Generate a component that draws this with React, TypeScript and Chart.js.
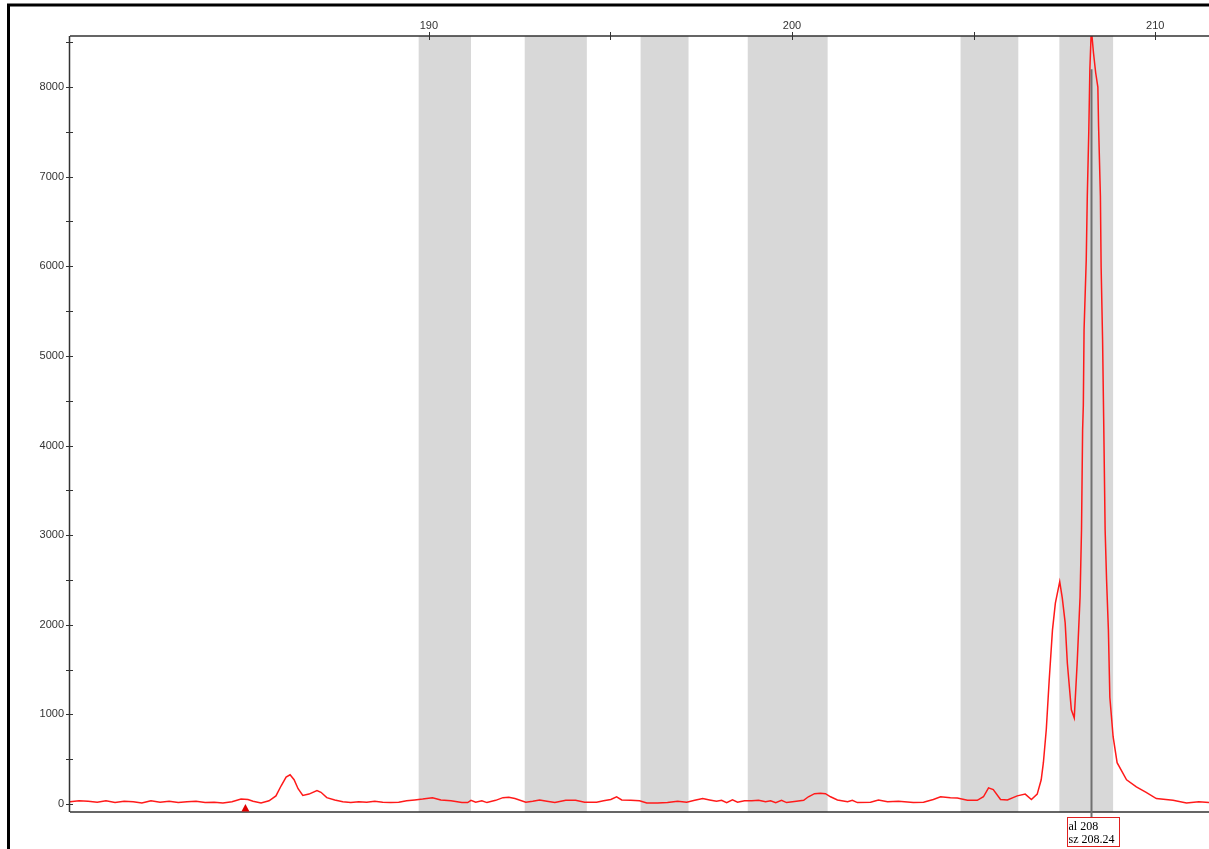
import React, { useEffect, useRef } from "react";
import { Chart, registerables } from "chart.js";

Chart.register(...registerables);

// Fragment size (bp) and signal (RFU)
const sizes = [
  180.12, 180.37, 180.62, 180.87, 181.11, 181.36, 181.61, 181.86, 182.10, 182.35,
  182.60, 182.85, 183.10, 183.34, 183.59, 183.84, 184.09, 184.33, 184.58, 184.83,
  185.02, 185.16, 185.38, 185.60, 185.79, 185.93, 186.07, 186.18, 186.29, 186.40,
  186.53, 186.70, 186.92, 187.03, 187.19, 187.41, 187.63, 187.85, 188.07, 188.29,
  188.51, 188.73, 188.95, 189.17, 189.39, 189.61, 189.83, 190.10, 190.33, 190.61,
  190.91, 191.07, 191.16, 191.29, 191.46, 191.60, 191.84, 192.04, 192.20, 192.37,
  192.67, 192.86, 193.05, 193.25, 193.47, 193.77, 194.04, 194.29, 194.62, 194.81,
  195.01, 195.17, 195.31, 195.56, 195.80, 196.00, 196.30, 196.57, 196.85, 197.10,
  197.32, 197.54, 197.73, 197.92, 198.06, 198.20, 198.36, 198.50, 198.69, 198.89,
  199.08, 199.27, 199.41, 199.55, 199.71, 199.85, 200.12, 200.32, 200.45, 200.62,
  200.78, 200.92, 201.06, 201.25, 201.53, 201.66, 201.80, 202.16, 202.38, 202.63,
  202.93, 203.34, 203.62, 203.89, 204.09, 204.36, 204.55, 204.83, 205.10, 205.27,
  205.41, 205.54, 205.74, 205.93, 206.20, 206.42, 206.59, 206.75, 206.86, 206.92,
  207.00, 207.08, 207.17, 207.25, 207.37, 207.44, 207.52, 207.58, 207.69, 207.77,
  207.85, 207.93, 207.97, 208.00, 208.02, 208.04, 208.10, 208.13, 208.17, 208.20,
  208.24, 208.30, 208.36, 208.42, 208.44, 208.49, 208.51, 208.55, 208.58, 208.62,
  208.66, 208.71, 208.75, 208.84, 208.95, 209.21, 209.48, 209.75, 210.03, 210.49,
  210.86, 211.20, 211.48,
];

const signal = [
  25, 35, 30, 20, 35, 15, 30, 25, 10, 35,
  20, 30, 15, 25, 30, 15, 20, 10, 25, 55,
  50, 30, 10, 35, 90, 200, 300, 325, 270, 170,
  95, 110, 150, 130, 70, 45, 25, 15, 25, 20,
  30, 20, 15, 20, 35, 45, 55, 70, 45, 35,
  15, 15, 40, 20, 35, 15, 40, 70, 75, 60,
  20, 30, 45, 30, 15, 40, 40, 20, 20, 35,
  50, 80, 45, 40, 35, 10, 10, 15, 30, 20,
  40, 60, 45, 30, 40, 15, 45, 20, 35, 35,
  40, 25, 35, 15, 40, 15, 30, 40, 80, 115,
  120, 115, 80, 45, 25, 40, 15, 20, 45, 25,
  30, 15, 20, 50, 80, 70, 65, 40, 40, 80,
  180, 160, 50, 45, 90, 110, 50, 110, 270, 460,
  830, 1380, 1940, 2240, 2480, 2300, 2020, 1570, 1050, 960,
  1570, 2310, 3060, 4170, 4450, 5290, 6070, 6800, 7500, 8200,
  8650, 8380, 8160, 8000, 7560, 6780, 5990, 5180, 4300, 3060,
  2500, 1940, 1190, 750, 460, 270, 190, 130, 60, 40,
  10, 25, 15,
];

// Allele bins (bp)
const binStarts = [189.72, 192.64, 195.83, 198.78, 204.64, 207.36];
const binEnds = [191.16, 194.35, 197.15, 200.98, 206.23, 208.84];

// Axis ticks
const xTicks = [190, 195, 200, 205, 210];
const xLabelled = [190, 200, 210];
const yTicks = [0, 500, 1000, 1500, 2000, 2500, 3000, 3500, 4000, 4500, 5000, 5500, 6000, 6500, 7000, 7500, 8000, 8500];

// Peak call
const calledAllele = "208";
const calledSize = 208.24;
const calledMarkerTop = 8200;
const triangleSize = 184.95;

const X_MIN = 180.12;
const X_MAX = 211.48;
const Y_MIN = -90;
const Y_MAX = 8570;

const overlayPlugin = {
  id: "overlay",
  beforeDraw(chart: any) {
    const ctx = chart.ctx;
    ctx.save();
    ctx.fillStyle = "#ffffff";
    ctx.fillRect(0, 0, chart.width, chart.height);
    ctx.strokeStyle = "#000000";
    ctx.lineWidth = 3;
    ctx.beginPath();
    ctx.moveTo(8.5, chart.height + 10);
    ctx.lineTo(8.5, 5);
    ctx.lineTo(chart.width + 10, 5);
    ctx.stroke();
    ctx.restore();
  },
  beforeDatasetsDraw(chart: any) {
    const ctx = chart.ctx;
    const xs = chart.scales.x;
    const a = chart.chartArea;
    ctx.save();
    ctx.fillStyle = "#d8d8d8";
    binStarts.forEach((s, i) => {
      const x0 = xs.getPixelForValue(s);
      const x1 = xs.getPixelForValue(binEnds[i]);
      ctx.fillRect(x0, a.top, x1 - x0, a.bottom - a.top);
    });
    ctx.restore();
  },
  afterDraw(chart: any) {
    const ctx = chart.ctx;
    const xs = chart.scales.x;
    const ys = chart.scales.y;
    const a = chart.chartArea;
    ctx.save();
    // axes lines
    ctx.strokeStyle = "#333333";
    ctx.lineWidth = 1.5;
    ctx.beginPath();
    ctx.moveTo(a.left, a.top);
    ctx.lineTo(a.right, a.top);
    ctx.moveTo(a.left - 0.5, a.top);
    ctx.lineTo(a.left - 0.5, a.bottom);
    ctx.moveTo(a.left, a.bottom);
    ctx.lineTo(a.right, a.bottom);
    ctx.stroke();
    // ticks
    ctx.lineWidth = 1;
    ctx.beginPath();
    yTicks.forEach((v) => {
      const y = Math.round(ys.getPixelForValue(v)) + 0.5;
      ctx.moveTo(a.left - 4, y);
      ctx.lineTo(a.left + 3, y);
    });
    xTicks.forEach((v) => {
      const x = Math.round(xs.getPixelForValue(v)) + 0.5;
      ctx.moveTo(x, a.top - 4);
      ctx.lineTo(x, a.top + 4);
    });
    ctx.stroke();
    // called peak marker line
    const px = Math.round(xs.getPixelForValue(calledSize)) + 0.5;
    const boxTop = a.bottom + 5;
    ctx.strokeStyle = "#707070";
    ctx.lineWidth = 2;
    ctx.beginPath();
    ctx.moveTo(px, ys.getPixelForValue(calledMarkerTop));
    ctx.lineTo(px, boxTop);
    ctx.stroke();
    // label box
    const bx = px - 25;
    const bw = 52;
    const bh = 29;
    ctx.fillStyle = "#ffffff";
    ctx.fillRect(bx, boxTop, bw, bh);
    ctx.strokeStyle = "#e02020";
    ctx.lineWidth = 1;
    ctx.strokeRect(Math.round(bx) + 0.5, Math.round(boxTop) + 0.5, bw, bh);
    ctx.fillStyle = "#000000";
    ctx.font = "12px 'Liberation Serif', 'Times New Roman', serif";
    ctx.textAlign = "left";
    ctx.textBaseline = "alphabetic";
    ctx.fillText("al " + calledAllele, bx + 2, boxTop + 13);
    ctx.fillText("sz " + calledSize.toFixed(2), bx + 2, boxTop + 26);
    // triangle marker
    const tx = xs.getPixelForValue(triangleSize);
    ctx.fillStyle = "#e00000";
    ctx.beginPath();
    ctx.moveTo(tx, a.bottom - 8);
    ctx.lineTo(tx - 4, a.bottom - 0.5);
    ctx.lineTo(tx + 4, a.bottom - 0.5);
    ctx.closePath();
    ctx.fill();
    ctx.restore();
  },
};

export default function App() {
  const ref = useRef<HTMLCanvasElement | null>(null);

  useEffect(() => {
    if (!ref.current) return;
    const chart = new Chart(ref.current, {
      type: "line",
      data: {
        datasets: [
          {
            data: sizes.map((x, i) => ({ x, y: signal[i] })),
            borderColor: "#ff1a1a",
            borderWidth: 1.5,
            pointRadius: 0,
            tension: 0,
            fill: false,
          },
        ],
      },
      options: {
        animation: false,
        responsive: false,
        devicePixelRatio: 1,
        layout: { padding: { left: 0, top: 0, right: 0, bottom: 37 } },
        plugins: { legend: { display: false }, tooltip: { enabled: false } },
        scales: {
          x: {
            type: "linear",
            position: "top",
            min: X_MIN,
            max: X_MAX,
            grid: { display: false, drawTicks: false },
            border: { display: false },
            afterBuildTicks: (s: any) => {
              s.ticks = xTicks.map((v) => ({ value: v }));
            },
            afterFit: (s: any) => {
              s.height = 36;
            },
            ticks: {
              autoSkip: false,
              maxRotation: 0,
              padding: 3,
              color: "#333333",
              font: { size: 11, family: "'Liberation Sans', Arial, sans-serif" },
              callback: (v: any) => (xLabelled.includes(Number(v)) ? String(v) : ""),
            },
          },
          y: {
            type: "linear",
            min: Y_MIN,
            max: Y_MAX,
            grid: { display: false, drawTicks: false },
            border: { display: false },
            afterBuildTicks: (s: any) => {
              s.ticks = yTicks.map((v) => ({ value: v }));
            },
            afterFit: (s: any) => {
              s.width = 70;
            },
            ticks: {
              autoSkip: false,
              padding: 6,
              color: "#333333",
              font: { size: 11, family: "'Liberation Sans', Arial, sans-serif" },
              callback: (v: any) => (Number(v) % 1000 === 0 ? String(v) : ""),
            },
          },
        },
      },
      plugins: [overlayPlugin],
    });
    return () => chart.destroy();
  }, []);

  return (
    <div style={{ position: "fixed", left: 0, top: 0, width: 1209, height: 849, background: "#fff" }}>
      <canvas ref={ref} width={1209} height={849} style={{ width: 1209, height: 849, display: "block" }} />
    </div>
  );
}
